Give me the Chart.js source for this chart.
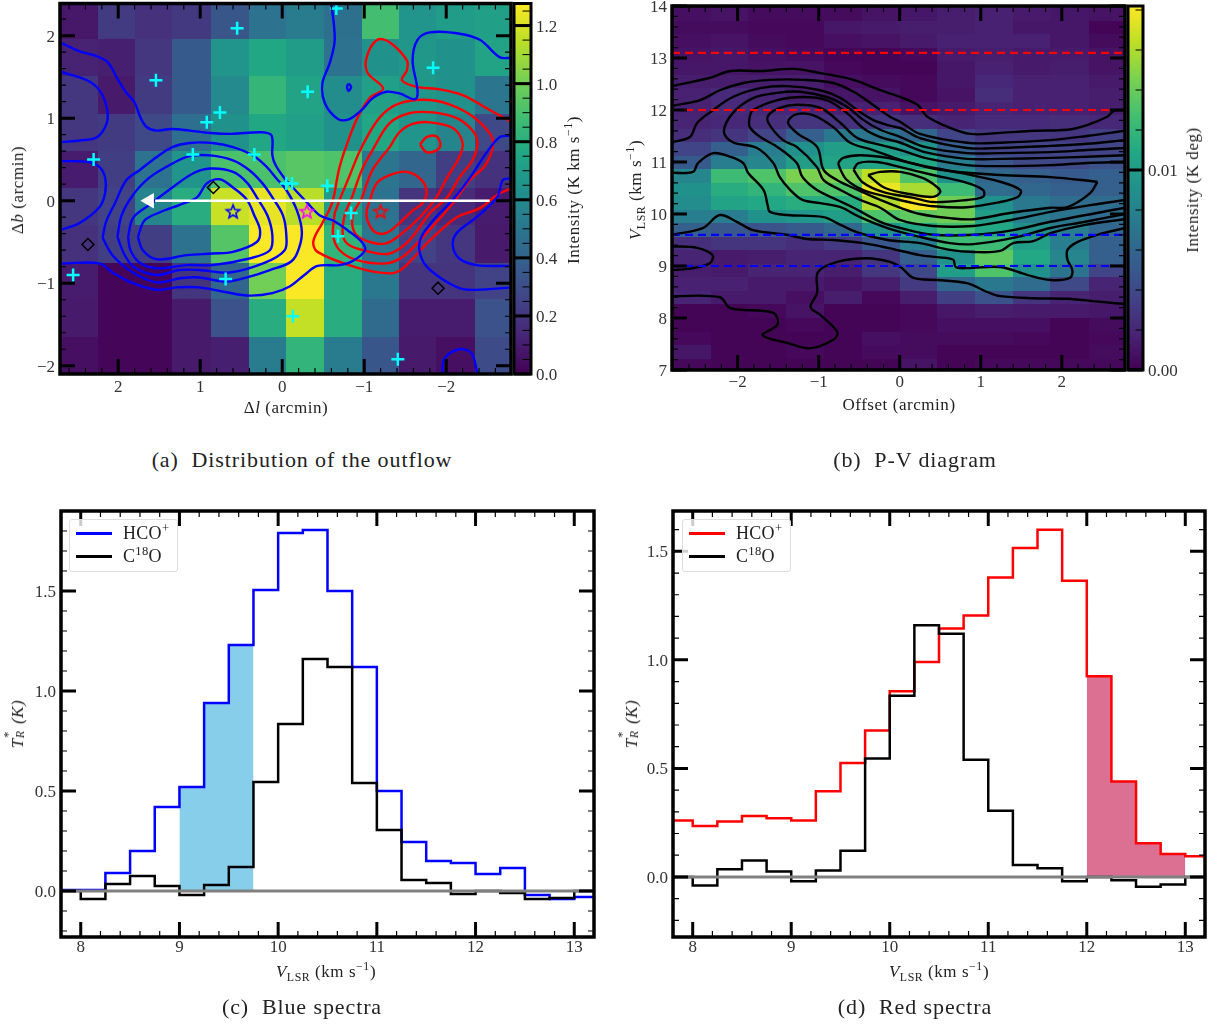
<!DOCTYPE html>
<html>
<head>
<meta charset="utf-8">
<script src="https://cdn.jsdelivr.net/npm/chart.js@4"></script>
<style>
body { margin: 0; background: #fff; width: 1221px; height: 1028px; position: relative; overflow: hidden; font-family: "Liberation Serif", serif; color: #222; }
canvas { position: absolute; }
.lbl { position: absolute; white-space: nowrap; transform: translate(-50%, -50%); font-size: 17px; letter-spacing: .55px; }
.rot { transform: translate(-50%, -50%) rotate(-90deg); }
.cap { font-size: 22px; letter-spacing: .9px; }
.lbl sup, .lbl sub, .legend sup { font-size: 70%; line-height: 0; }
.stack { display: inline-block; position: relative; width: .55em; height: 1em; }
.stack b { position: absolute; left: 0; font-weight: normal; font-size: 70%; line-height: 1; }
.legend { position: absolute; width: 107px; height: 51px; border: 1px solid #ddd; border-radius: 3px; background: rgba(255,255,255,.8); font-size: 18px; letter-spacing: .3px; }
.legend span { position: absolute; left: 6px; width: 36px; height: 2.5px; }
.legend div { position: absolute; left: 53px; line-height: 20px; white-space: nowrap; }
</style>
</head>
<body>
<canvas id="mapChart"></canvas>
<canvas id="mapBar"></canvas>
<canvas id="pvChart"></canvas>
<canvas id="pvBar"></canvas>
<canvas id="blueChart"></canvas>
<canvas id="redChart"></canvas>

<div class="lbl" style="left:286px;top:408px">&Delta;<i>l</i> (arcmin)</div>
<div class="lbl rot" style="left:18px;top:190px">&Delta;<i>b</i> (arcmin)</div>
<div class="lbl rot" style="left:574px;top:190px">Intensity (K km s<sup>&minus;1</sup>)</div>
<div class="lbl" style="left:899px;top:405px">Offset (arcmin)</div>
<div class="lbl rot" style="left:636px;top:190px"><i>V</i><sub>LSR</sub> (km s<sup>&minus;1</sup>)</div>
<div class="lbl rot" style="left:1193px;top:190px">Intensity (K deg)</div>
<div class="lbl" style="left:326px;top:972px"><i>V</i><sub>LSR</sub> (km s<sup>&minus;1</sup>)</div>
<div class="lbl" style="left:939px;top:972px"><i>V</i><sub>LSR</sub> (km s<sup>&minus;1</sup>)</div>
<div class="lbl rot" style="left:17px;top:724px"><i>T<span class="stack"><b style="top:-3px">*</b><b style="top:9px"><i>R</i></b></span> (K)</i></div>
<div class="lbl rot" style="left:631px;top:724px"><i>T<span class="stack"><b style="top:-3px">*</b><b style="top:9px"><i>R</i></b></span> (K)</i></div>

<div class="lbl cap" style="left:302px;top:460px">(a)&nbsp; Distribution of the outflow</div>
<div class="lbl cap" style="left:915px;top:460px">(b)&nbsp; P-V diagram</div>
<div class="lbl cap" style="left:302px;top:1007px">(c)&nbsp; Blue spectra</div>
<div class="lbl cap" style="left:915px;top:1007px">(d)&nbsp; Red spectra</div>

<div class="legend" style="left:69px;top:519px">
  <span style="top:12px;background:#00f"></span><div style="top:3px">HCO<sup>+</sup></div>
  <span style="top:35px;background:#000"></span><div style="top:26px">C<sup>18</sup>O</div>
</div>
<div class="legend" style="left:682px;top:519px">
  <span style="top:12px;background:#f00"></span><div style="top:3px">HCO<sup>+</sup></div>
  <span style="top:35px;background:#000"></span><div style="top:26px">C<sup>18</sup>O</div>
</div>

<script>
// panel (a) moment map, rows from the top, K km/s
const mapLonEdges = [2.71,2.25,1.80,1.34,.87,.41,-.04,-.51,-.97,-1.43,-1.88,-2.35,-2.79];
const mapLatEdges = [2.39,1.96,1.51,1.05,.60,.15,-.30,-.75,-1.19,-1.65,-2.10];
const mapIntensity = [
  [.08,.22,.18,.21,.34,.48,.53,.47,.89,.66,.70,.72],
  [.12,.11,.20,.36,.66,.76,.70,.48,.64,.67,.64,.74],
  [.20,.09,.22,.36,.60,.84,.74,.61,.72,.67,.64,.50],
  [.20,.22,.28,.46,.64,.76,.72,.64,.76,.66,.57,.28],
  [.10,.23,.48,.66,.91,.91,.94,.92,.50,.42,.23,.18],
  [.20,.25,.57,.79,1.17,1.23,1.14,.70,.48,.19,.15,.10],
  [.18,.23,.23,.48,.93,1.27,1.27,.83,.50,.25,.20,.09],
  [.10,.02,.02,.19,.42,1.00,1.27,.79,.51,.19,.19,.25],
  [.09,.02,.02,.09,.32,.79,1.16,.79,.44,.10,.10,.32],
  [.05,.02,.02,.09,.11,.53,.83,.53,.34,.09,.05,.29]
];
const mapPeak = 1.276;

const blueLevel1 = [[2.69,1.91],[2.47,1.81],[2.29,1.76],[2.13,1.68],[2.01,1.48],[1.91,1.32],[1.80,1.19],[1.73,1.01],[1.65,.89],[1.53,.85],[1.35,.87],[1.13,.85],[.87,.82],[.62,.81],[.25,.83],[.13,.79],[.12,.55],[.08,.43],[-.03,.27],[-.13,.16],[-.31,-.03],[-.46,-.18],[-.62,-.24],[-.80,-.36],[-.97,-.50],[-1.01,-.60],[-.86,-.73],[-.70,-.78],[-.43,-.79],[-.27,-.90],[-.09,-1.04],[.12,-1.12],[.40,-1.15],[.68,-1.11],[1.01,-1.05],[1.29,-1.05],[1.53,-1.08],[1.82,-1.00],[2.07,-.87],[2.23,-.76],[2.69,-.76]];
const blueLevel2 = [[2.19,-.45],[2.15,-.26],[2.04,-.03],[1.90,.25],[1.74,.37],[1.53,.53],[1.34,.65],[1.13,.70],[.85,.70],[.60,.65],[.36,.55],[.19,.41],[.07,.27],[-.05,.13],[-.18,-.12],[-.24,-.39],[-.18,-.64],[-.09,-.75],[.15,-.84],[.40,-.92],[.68,-.98],[1.01,-.93],[1.25,-.94],[1.53,-.99],[1.82,-.87],[2.07,-.66],[2.19,-.45]];
const blueLevel3 = [[2.01,-.44],[1.96,-.18],[1.82,.07],[1.62,.28],[1.34,.45],[1.13,.54],[.88,.55],[.60,.49],[.40,.37],[.24,.21],[.12,.04],[-.01,-.18],[-.05,-.42],[-.03,-.60],[.21,-.75],[.64,-.87],[1.01,-.84],[1.25,-.84],[1.53,-.90],[1.80,-.81],[1.92,-.66],[2.01,-.44]];
const blueLevel4 = [[1.88,-.44],[1.82,-.21],[1.62,-.05],[1.34,.16],[1.09,.33],[.88,.39],[.60,.35],[.43,.22],[.31,.04],[.18,-.18],[.12,-.42],[.15,-.60],[.40,-.70],[.85,-.78],[1.16,-.78],[1.53,-.82],[1.74,-.75],[1.85,-.60],[1.88,-.44]];
const blueLevel5 = [[1.76,-.44],[1.68,-.24],[1.49,-.14],[1.25,-.05],[1.04,.04],[.92,.21],[.76,.26],[.60,.16],[.43,.01],[.34,-.18],[.27,-.36],[.31,-.50],[.60,-.62],[.85,-.64],[1.16,-.66],[1.53,-.71],[1.70,-.60],[1.76,-.44]];
const blueLeftUpper = [[2.69,1.56],[2.38,1.46],[2.23,1.34],[2.14,1.13],[2.14,.94],[2.26,.77],[2.47,.73],[2.69,.71]];
const blueLeftLower = [[2.69,.48],[2.38,.47],[2.23,.41],[2.16,.28],[2.16,.09],[2.23,-.08],[2.47,-.27],[2.69,-.35]];
const blueTop = [[-.60,2.39],[-.64,1.95],[-.58,1.67],[-.49,1.42],[-.52,1.18],[-.68,.99],[-.82,.99],[-.97,1.10],[-1.10,1.24],[-1.27,1.32],[-1.43,1.30],[-1.62,1.23],[-1.65,1.34],[-1.59,1.70],[-1.65,1.95],[-1.80,2.04],[-2.13,2.03],[-2.41,1.95],[-2.65,1.74],[-2.79,1.73]];
const blueDot = [[-.81,1.42],[-.84,1.38],[-.81,1.33],[-.79,1.38],[-.81,1.42]];
const blueRightOuter = [[-2.79,.79],[-2.65,.77],[-2.49,.58],[-2.29,.28],[-2.08,.01],[-1.84,-.24],[-1.68,-.48],[-1.70,-.70],[-1.84,-.87],[-2.16,-1.06],[-2.37,-1.08],[-2.79,-1.05]];
const blueRightInner = [[-2.79,.27],[-2.69,.25],[-2.62,.04],[-2.37,-.20],[-2.13,-.39],[-2.08,-.54],[-2.16,-.70],[-2.37,-.78],[-2.79,-.79]];
const blueBottom = [[-1.95,-2.10],[-1.98,-1.91],[-2.16,-1.80],[-2.31,-1.85],[-2.38,-2.10]];

const redLevel1 = [[-2.79,.96],[-2.53,1.10],[-2.20,1.28],[-1.92,1.35],[-1.64,1.38],[-1.46,1.46],[-1.52,1.58],[-1.52,1.70],[-1.31,1.92],[-1.16,1.95],[-1.03,1.74],[-1.04,1.55],[-1.23,1.36],[-1.07,1.25],[-.92,1.01],[-.82,.77],[-.70,.41],[-.62,.01],[-.57,-.12],[-.49,-.27],[-.38,-.49],[-.43,-.62],[-.91,-.81],[-1.31,-.88],[-1.47,-.82],[-1.80,-.48],[-2.13,-.20],[-2.41,-.09],[-2.62,.07],[-2.79,.15]];
const redLevel2 = [[-.64,-.15],[-.62,-.42],[-.70,-.60],[-.91,-.72],[-1.27,-.76],[-1.47,-.68],[-1.68,-.48],[-1.88,-.26],[-2.08,-.03],[-2.29,.25],[-2.49,.45],[-2.57,.73],[-2.41,.95],[-2.13,1.13],[-1.80,1.22],[-1.43,1.18],[-1.19,1.01],[-.97,.65],[-.80,.25],[-.70,.01],[-.64,-.15]];
const redLevel3 = [[-.85,.04],[-.97,.37],[-1.10,.61],[-1.31,.94],[-1.55,1.06],[-1.84,1.07],[-2.13,1.00],[-2.32,.85],[-2.38,.70],[-2.32,.49],[-2.16,.28],[-2.01,.04],[-1.80,-.15],[-1.55,-.48],[-1.31,-.64],[-1.07,-.62],[-.82,-.54],[-.74,-.42],[-.76,-.18],[-.85,.04]];
const redLevel4 = [[-.97,.03],[-1.10,.37],[-1.31,.65],[-1.43,.83],[-1.59,.93],[-1.80,.95],[-2.08,.88],[-2.20,.70],[-2.16,.53],[-2.01,.28],[-1.88,.04],[-1.68,-.20],[-1.43,-.42],[-1.25,-.52],[-1.01,-.48],[-.88,-.38],[-.86,-.18],[-.97,.03]];
const redLevel5 = [[-1.07,.01],[-1.15,.21],[-1.31,.31],[-1.52,.35],[-1.70,.25],[-1.76,.10],[-1.71,-.03],[-1.59,-.12],[-1.43,-.27],[-1.27,-.39],[-1.13,-.38],[-1.04,-.24],[-1.03,-.12],[-1.07,.01]];
const redLevel6 = [[-1.68,.68],[-1.76,.77],[-1.88,.78],[-1.93,.68],[-1.88,.61],[-1.76,.59],[-1.68,.68]];

const cyanSources = [[.55,2.09],[-.66,2.33],[1.54,1.46],[.76,1.07],[.92,.95],[-.31,1.32],[-1.84,1.61],[2.30,.50],[1.09,.56],[.34,.56],[-.05,.21],[-.12,.21],[-.55,.18],[-.84,-.15],[-.68,-.43],[2.55,-.90],[.69,-.95],[-.13,-1.40],[-1.41,-1.92]];
const diamondSources = [[.84,.16],[2.37,-.53],[-1.90,-1.06]];
const blueStar = [[.60,-.13]];
const magentaStar = [[-.30,-.13]];
const redStar = [[-1.20,-.13]];
const arrowShaft = [[-2.53,0],[1.55,0]];
const arrowTip = [[1.62,0]];

// panel (b) position-velocity, rows from the top, fraction of the peak
const pvOffsetEdges = [-2.81,-2.33,-1.87,-1.40,-.93,-.47,0,.46,.93,1.40,1.86,2.33,2.78];
const pvVelocityEdges = [14,13.72,13.46,13.20,12.94,12.68,12.42,12.16,11.90,11.64,11.38,11.12,10.86,10.60,10.34,10.08,9.82,9.56,9.30,9.04,8.78,8.52,8.26,8.00,7.74,7.48,7.22,7];
const pvPeak = 0.0182;
const pvFraction = [
  [.04,.05,.03,.03,.03,.05,.06,.08,.09,.07,.06,.05],
  [.03,.03,.02,.02,.06,.07,.08,.08,.09,.06,.06,.01],
  [.04,.05,.03,.02,.04,.05,.07,.09,.09,.09,.06,.03],
  [.05,.06,.04,.03,.01,.01,.02,.07,.08,.07,.07,.05],
  [.06,.06,.05,.05,.02,.01,.01,.06,.09,.07,.08,.05],
  [.08,.08,.08,.08,.04,.03,.02,.06,.11,.09,.09,.07],
  [.09,.12,.10,.08,.06,.05,.02,.05,.13,.09,.09,.08],
  [.09,.12,.11,.11,.09,.09,.05,.07,.10,.09,.09,.08],
  [.10,.11,.13,.15,.14,.16,.13,.10,.12,.12,.13,.11],
  [.13,.15,.20,.30,.40,.38,.33,.20,.16,.16,.15,.18],
  [.20,.30,.42,.50,.55,.55,.50,.30,.20,.20,.20,.20],
  [.28,.42,.45,.55,.58,.58,.60,.42,.27,.22,.22,.25],
  [.45,.68,.72,.80,.80,.90,.72,.50,.33,.30,.28,.30],
  [.50,.62,.65,.72,.72,.97,.87,.68,.35,.33,.30,.30],
  [.48,.58,.60,.62,.62,.88,1.0,.78,.50,.40,.35,.35],
  [.42,.42,.50,.52,.55,.72,.75,.78,.55,.42,.38,.35],
  [.30,.27,.25,.28,.33,.50,.60,.70,.60,.50,.42,.33],
  [.13,.15,.15,.13,.17,.27,.42,.68,.68,.55,.42,.30],
  [.10,.07,.08,.10,.10,.15,.30,.50,.75,.60,.45,.30],
  [.08,.07,.10,.10,.08,.16,.22,.55,.72,.50,.38,.20],
  [.09,.09,.07,.07,.05,.08,.17,.33,.40,.35,.22,.10],
  [.10,.07,.07,.04,.08,.02,.08,.18,.25,.15,.10,.08],
  [.01,.01,.02,.05,.01,.01,.02,.06,.08,.07,.07,.06],
  [.01,.01,.01,.02,.01,.01,.02,.04,.04,.04,.01,.03],
  [.02,.01,.01,.01,.01,.04,.03,.03,.03,.02,.01,.02],
  [.06,.01,.01,.02,.01,.03,.03,.01,.01,.01,.01,.03],
  [.02,.01,.01,.01,.01,.01,.05,.01,.02,.02,.02,.02]
];

const pvContour1 = [[-2.81,12.46],[-2.34,12.62],[-2.09,12.75],[-1.72,12.75],[-1.31,12.79],[-.98,12.71],[-.57,12.58],[-.24,12.38],[.01,12.25],[.22,12.10],[.29,11.96],[.34,11.87],[.54,11.71],[.87,11.54],[1.24,11.56],[1.65,11.60],[2.07,11.62],[2.31,11.71],[2.56,11.87],[2.64,11.98],[2.78,12.00]];
const pvContour2 = [[-2.81,12.08],[-2.46,12.19],[-2.22,12.38],[-1.93,12.52],[-1.60,12.58],[-1.19,12.58],[-.82,12.52],[-.57,12.35],[-.33,12.10],[-.12,11.87],[.01,11.77],[.25,11.54],[.83,11.37],[1.24,11.37],[1.86,11.42],[2.31,11.50],[2.78,11.60]];
const pvContour3 = [[-2.81,11.38],[-2.59,11.48],[-2.50,11.75],[-2.30,12.0],[-2.06,12.25],[-1.72,12.42],[-1.39,12.46],[-.98,12.38],[-.73,12.23],[-.49,11.96],[-.33,11.81],[-.15,11.71],[.01,11.65],[.25,11.46],[.83,11.27],[1.24,11.27],[1.86,11.31],[2.31,11.35],[2.78,11.42]];
const pvContour4 = [[2.78,11.27],[2.31,11.23],[1.86,11.19],[1.24,11.17],[.83,11.17],[.31,11.29],[.01,11.48],[-.24,11.62],[-.45,11.81],[-.65,12.06],[-.90,12.25],[-1.23,12.35],[-1.51,12.33],[-1.81,12.23],[-2.06,11.94],[-2.17,11.58],[-2.06,11.38],[-1.76,11.27],[-1.56,10.98],[-1.48,10.71],[-1.35,10.46],[-1.20,10.27],[-.98,10.21],[-.73,10.13],[-.49,9.94],[-.15,9.73],[.25,9.56],[.62,9.44],[.91,9.42],[1.40,9.54],[1.86,9.73],[2.29,9.85],[2.78,10.0]];
const pvContour5 = [[2.78,11.13],[2.31,11.10],[1.86,11.08],[1.24,11.06],[.83,11.06],[.31,11.19],[.01,11.37],[-.24,11.48],[-.45,11.65],[-.65,11.94],[-.90,12.19],[-1.19,12.25],[-1.51,12.19],[-1.81,12.0],[-1.85,11.87],[-1.85,11.67],[-1.72,11.48],[-1.51,11.29],[-1.27,10.98],[-1.20,10.71],[-1.02,10.46],[-.77,10.27],[-.57,10.12],[-.24,9.85],[.01,9.73],[.41,9.60],[.91,9.60],[1.40,9.69],[1.86,9.85],[2.78,10.12]];
const pvContour6 = [[2.78,11.0],[2.31,10.98],[1.86,10.94],[1.24,10.92],[.83,10.94],[.31,11.08],[.01,11.23],[-.24,11.33],[-.52,11.46],[-.73,11.75],[-.98,12.04],[-1.27,12.10],[-1.48,12.04],[-1.62,11.90],[-1.62,11.75],[-1.44,11.42],[-1.27,11.29],[-1.02,10.90],[-.94,10.65],[-.73,10.46],[-.49,10.27],[-.24,10.12],[.01,9.88],[.41,9.77],[.91,9.77],[1.36,9.88],[1.86,10.04],[2.35,10.17],[2.78,10.27]];
const pvContour7 = [[2.44,10.62],[1.86,10.71],[1.24,10.75],[.50,10.85],[.01,11.04],[-.33,11.23],[-.61,11.37],[-.82,11.67],[-1.07,11.90],[-1.27,11.92],[-1.38,11.77],[-1.27,11.56],[-1.02,11.29],[-.94,10.85],[-.77,10.65],[-.57,10.5],[-.24,10.27],[.01,10.12],[.25,10.0],[.62,9.92],[.91,9.90],[1.36,10.02],[1.86,10.12],[2.07,10.13],[2.35,10.40],[2.44,10.62]];
const pvContour8 = [[-.76,10.98],[-.70,11.08],[-.49,11.13],[-.15,11.08],[.25,10.94],[.75,10.79],[1.24,10.62],[1.49,10.46],[1.46,10.33],[1.24,10.23],[.83,10.13],[.41,10.15],[.17,10.21],[-.15,10.33],[-.45,10.46],[-.65,10.65],[-.73,10.85],[-.76,10.98]];
const pvContour9 = [[-.57,10.85],[-.51,10.98],[-.28,11.0],[.01,10.90],[.41,10.75],[.83,10.60],[1.03,10.46],[1.03,10.33],[.83,10.27],[.41,10.23],[.17,10.31],[-.20,10.42],[-.45,10.60],[-.57,10.85]];
const pvContour10 = [[-.39,10.75],[-.24,10.81],[.01,10.81],[.29,10.69],[.46,10.52],[.50,10.42],[.41,10.33],[.17,10.37],[-.18,10.5],[-.39,10.75]];
const pvContourLeft = [[-2.81,10.79],[-2.55,10.81],[-2.49,10.98],[-2.30,11.17],[-2.09,11.10],[-1.93,10.98],[-1.87,10.79],[-1.68,10.46],[-1.63,10.17],[-1.60,10.04],[-1.39,9.98],[-.94,9.94],[-.73,9.79],[-.49,9.63],[-.15,9.50],[.25,9.44],[.62,9.31],[.91,9.27],[1.24,9.29],[1.40,9.44],[1.65,9.48],[1.86,9.63],[2.29,9.79],[2.78,9.90]];
const pvContourLower = [[-2.81,9.60],[-2.43,9.73],[-2.22,9.98],[-2.01,9.85],[-1.81,9.69],[-1.39,9.60],[-1.14,9.52],[-.82,9.50],[-.45,9.44],[-.15,9.35],[.25,9.21],[.46,9.17],[.66,9.12],[.69,8.98],[.83,8.96],[1.24,8.98],[1.57,8.83],[1.86,8.73],[2.10,8.77],[2.13,8.92],[2.07,9.12],[2.07,9.31],[2.19,9.46],[2.44,9.60],[2.78,9.73]];
const pvContourBlob = [[-2.81,9.38],[-2.50,9.35],[-2.31,9.21],[-2.34,9.06],[-2.55,8.96],[-2.81,8.92]];
const pvContourBottom = [[-2.81,8.42],[-2.22,8.40],[-2.09,8.19],[-1.56,8.10],[-1.51,7.87],[-1.69,7.67],[-1.39,7.52],[-1.10,7.42],[-.82,7.58],[-.77,7.73],[-.98,8.06],[-1.10,8.21],[-1.02,8.48],[-1.01,8.88],[-.77,9.08],[-.40,9.15],[-.12,9.08],[.01,8.98],[.17,8.77],[.46,8.73],[.83,8.67],[1.08,8.50],[1.24,8.42],[1.65,8.38],[2.07,8.37],[2.48,8.31],[2.78,8.27]];
const pvRedLevels = [13.1, 12.0];
const pvBlueLevels = [9.6, 9.0];

// panels (c) and (d): left edge of each channel, km/s, and T in K
const channelEdges = [7.75,8,8.25,8.5,8.75,9,9.25,9.5,9.75,10,10.25,10.5,10.75,11,11.25,11.5,11.75,12,12.25,12.5,12.75,13,13.25];
const blueHco = [.005,.005,.09,.20,.42,.52,.94,1.23,1.505,1.79,1.805,1.50,1.12,.50,.245,.15,.14,.085,.115,-.02,-.04,-.03];
const blueC18o = [0,-.04,.035,.075,.025,-.02,.03,.12,.545,.835,1.16,1.12,.54,.305,.055,.04,-.015,0,-.01,-.04,-.035,0];
const redHco = [.26,.235,.255,.28,.27,.26,.395,.525,.675,.855,.99,1.145,1.205,1.38,1.515,1.60,1.365,.925,.44,.155,.105,.095];
const redC18o = [0,-.04,.035,.075,.025,-.02,.03,.12,.545,.835,1.16,1.12,.54,.305,.055,.04,-.02,0,-.015,-.045,-.035,0];

const viridisStops = ['#440154','#482475','#414487','#355f8d','#2a788e','#21918c','#22a884','#44bf70','#7ad151','#bddf26','#fde725'];

function hexRgb(h) {
  return [1,3,5].map(i => parseInt(h.substr(i,2),16));
}
function viridis(t) {
  t = Math.min(1, Math.max(0, t)) * (viridisStops.length - 1);
  const i = Math.min(Math.floor(t), viridisStops.length - 2);
  const a = hexRgb(viridisStops[i]), b = hexRgb(viridisStops[i+1]), f = t - i;
  return 'rgb(' + a.map((v,k) => Math.round(v + (b[k]-v)*f)).join(',') + ')';
}
function pts(pairs) {
  return pairs.map(p => ({x: p[0], y: p[1]}));
}
function niceNum(v, digits) {
  const s = Math.abs(v).toFixed(digits);
  return (v < -1e-9 ? '\u2212' : '') + s;
}
function isMajor(v, step) {
  return Math.abs(v/step - Math.round(v/step)) < 1e-6;
}

// cells go through the chart's scales
function heatPlugin(xEdges, yEdges, values, vmax) {
  return {
    id: 'heat',
    beforeDatasetsDraw(chart) {
      const ctx = chart.ctx, xs = chart.scales.x, ys = chart.scales.y;
      ctx.save();
      values.forEach((row, r) => row.forEach((v, c) => {
        const x0 = Math.round(xs.getPixelForValue(xEdges[c])), x1 = Math.round(xs.getPixelForValue(xEdges[c+1]));
        const y0 = Math.round(ys.getPixelForValue(yEdges[r])), y1 = Math.round(ys.getPixelForValue(yEdges[r+1]));
        ctx.fillStyle = viridis(v / vmax);
        ctx.fillRect(x0, y0, x1-x0, y1-y0);
      }));
      ctx.restore();
    }
  };
}

// matplotlib style box: thick spines and inward ticks on all sides
function framePlugin(xMajor, yMajor) {
  return {
    id: 'frame',
    afterDatasetsDraw(chart) {
      const ctx = chart.ctx, a = chart.chartArea;
      ctx.save();
      ctx.strokeStyle = '#000';
      chart.scales.x.ticks.forEach(t => {
        const px = chart.scales.x.getPixelForValue(t.value), major = isMajor(t.value, xMajor);
        const len = major ? 15 : 6;
        ctx.lineWidth = major ? 3 : 1.2;
        ctx.beginPath();
        ctx.moveTo(px, a.top); ctx.lineTo(px, a.top + len);
        ctx.moveTo(px, a.bottom); ctx.lineTo(px, a.bottom - len);
        ctx.stroke();
      });
      chart.scales.y.ticks.forEach(t => {
        const py = chart.scales.y.getPixelForValue(t.value), major = isMajor(t.value, yMajor);
        const len = major ? 15 : 6;
        ctx.lineWidth = major ? 3 : 1.2;
        ctx.beginPath();
        ctx.moveTo(a.left, py); ctx.lineTo(a.left + len, py);
        ctx.moveTo(a.right, py); ctx.lineTo(a.right - len, py);
        ctx.stroke();
      });
      ctx.lineWidth = 3.5;
      ctx.strokeRect(a.left, a.top, a.right - a.left, a.bottom - a.top);
      ctx.restore();
    }
  };
}

function colorbarPlugin(yMajor) {
  return {
    id: 'colorbar',
    beforeDatasetsDraw(chart) {
      const ctx = chart.ctx, a = chart.chartArea, ys = chart.scales.y;
      const g = ctx.createLinearGradient(0, ys.getPixelForValue(ys.min), 0, ys.getPixelForValue(ys.max));
      viridisStops.forEach((c, i) => g.addColorStop(i / (viridisStops.length - 1), c));
      ctx.save();
      ctx.fillStyle = g;
      ctx.fillRect(a.left, a.top, a.right - a.left, a.bottom - a.top);
      ctx.strokeStyle = '#000';
      ys.ticks.forEach(t => {
        const py = ys.getPixelForValue(t.value), major = isMajor(t.value, yMajor);
        ctx.lineWidth = major ? 3 : 1;
        ctx.beginPath();
        ctx.moveTo(major ? a.left : a.left + (a.right - a.left)/2, py);
        ctx.lineTo(a.right, py);
        ctx.stroke();
      });
      ctx.lineWidth = 3;
      ctx.strokeRect(a.left, a.top, a.right - a.left, a.bottom - a.top);
      ctx.restore();
    }
  };
}

const tickFont = {family: 'Liberation Serif', size: 17};

function fixedAxis(axis, size) {
  return function(s) {
    if (axis == 'x') s.height = size; else s.width = size;
    s.paddingTop = s.paddingBottom = s.paddingLeft = s.paddingRight = 0;
  };
}

function linearAxis(axis, lim, minor, major, digits, size, pad, extra) {
  return Object.assign({
    type: 'linear',
    min: lim[0],
    max: lim[1],
    grid: {display: false, drawTicks: false},
    border: {display: false},
    afterFit: fixedAxis(axis, size),
    ticks: {
      stepSize: minor,
      includeBounds: false,
      autoSkip: false,
      maxRotation: 0,
      padding: pad,
      labelOffset: axis == 'y' ? 1.5 : 0,
      color: '#333',
      font: tickFont,
      callback: v => isMajor(v, major) ? niceNum(v, digits) : ''
    }
  }, extra || {});
}

// canvas box is worked out from where the axes frame has to land
function makeChart(id, frame, datasets, xAxis, yAxis, plugins) {
  const canvas = document.getElementById(id);
  const left = frame.left - 60, top = Math.max(0, frame.top - 12);
  canvas.style.left = left + 'px';
  canvas.style.top = top + 'px';
  canvas.width = frame.right - left + 14;
  canvas.height = Math.ceil(frame.bottom - top) + 30;
  return new Chart(canvas.getContext('2d'), {
    type: 'scatter',
    data: {datasets: datasets},
    options: {
      responsive: false,
      animation: false,
      devicePixelRatio: 1,
      layout: {autoPadding: false, padding: {top: frame.top - top, right: 14, left: 0, bottom: 0}},
      plugins: {legend: {display: false}, tooltip: {enabled: false}},
      scales: {x: xAxis, y: yAxis}
    },
    plugins: plugins
  });
}

function makeColorbar(id, frame, yLim, minor, major, digits) {
  const canvas = document.getElementById(id);
  const left = frame.left - 4, top = Math.max(0, frame.top - 12);
  canvas.style.left = left + 'px';
  canvas.style.top = top + 'px';
  canvas.width = frame.right - left + 44;
  canvas.height = Math.ceil(frame.bottom - top) + 14;
  return new Chart(canvas.getContext('2d'), {
    type: 'scatter',
    data: {datasets: []},
    options: {
      responsive: false,
      animation: false,
      devicePixelRatio: 1,
      layout: {autoPadding: false, padding: {top: frame.top - top, left: 4, right: 0, bottom: 14}},
      plugins: {legend: {display: false}, tooltip: {enabled: false}},
      scales: {
        x: {type: 'linear', display: false, min: 0, max: 1},
        y: linearAxis('y', yLim, minor, major, digits, 44, 5, {position: 'right'})
      }
    },
    plugins: [colorbarPlugin(major)]
  });
}

function contour(pairs, color, smooth) {
  return {data: pts(pairs), showLine: true, borderColor: color, borderWidth: 2.4, pointRadius: 0, tension: smooth === undefined ? .35 : smooth, order: 5};
}

function starCanvas(color) {
  const c = document.createElement('canvas');
  c.width = c.height = 18;
  const g = c.getContext('2d');
  g.strokeStyle = color;
  g.lineWidth = 1.6;
  g.beginPath();
  for (let i = 0; i < 10; i++) {
    const r = i % 2 ? 3 : 7, ang = -Math.PI/2 + i*Math.PI/5;
    g.lineTo(9 + r*Math.cos(ang), 9.5 + r*Math.sin(ang));
  }
  g.closePath();
  g.stroke();
  return c;
}

function marker(pairs, style, color, radius, width, rotation) {
  return {data: pts(pairs), showLine: false, pointStyle: style, pointRadius: radius, pointBorderColor: color, pointBackgroundColor: 'rgba(0,0,0,0)', pointBorderWidth: width, pointRotation: rotation || 0, order: 1};
}

// panel a
const mapFrame = {left: 60, top: 3.5, right: 511, bottom: 373.5};
const mapContours = [blueLevel1,blueLevel2,blueLevel3,blueLevel4,blueLevel5,blueLeftUpper,blueLeftLower,blueTop,blueDot,blueRightOuter,blueRightInner,blueBottom].map(p => contour(p, '#00f'))
  .concat([redLevel1,redLevel2,redLevel3,redLevel4,redLevel5,redLevel6].map(p => contour(p, '#f00')));
const tipMark = marker(arrowTip, 'triangle', '#fff', 9, 0, -90);
tipMark.pointBackgroundColor = '#fff';
makeChart('mapChart', mapFrame, mapContours.concat([
  {data: pts(arrowShaft), showLine: true, borderColor: '#fff', borderWidth: 2.5, pointRadius: 0, order: 2},
  tipMark,
  marker(cyanSources, 'cross', '#0ff', 6.5, 2.5),
  marker(diamondSources, 'rectRot', '#000', 6, 1.5),
  marker(blueStar, starCanvas('#00f'), '#00f', 8, 1),
  marker(magentaStar, starCanvas('#f0f'), '#f0f', 8, 1),
  marker(redStar, starCanvas('#f00'), '#f00', 8, 1)
]),
  linearAxis('x', [-2.79, 2.71], .2, 1, 0, 30, 3, {reverse: true}),
  linearAxis('y', [-2.10, 2.39], .2, 1, 0, 60, 5),
  [heatPlugin(mapLonEdges, mapLatEdges, mapIntensity, mapPeak), framePlugin(1, 1)]);
makeColorbar('mapBar', {left: 514, top: 3.5, right: 531, bottom: 373.5}, [0, mapPeak], .05, .2, 1);

// panel b
const pvFrame = {left: 672, top: 6, right: 1125, bottom: 370};
const pvLimits = [-2.81, 2.78];
function dashedLevel(v, color) {
  return {data: [{x: pvLimits[0], y: v}, {x: pvLimits[1], y: v}], showLine: true, borderColor: color, borderWidth: 2.2, borderDash: [8, 5], pointRadius: 0, order: 1};
}
makeChart('pvChart', pvFrame,
  [pvContour1,pvContour2,pvContour3,pvContour4,pvContour5,pvContour6,pvContour7,pvContour8,pvContour9,pvContour10,pvContourLeft,pvContourLower,pvContourBlob,pvContourBottom].map(p => contour(p, '#000'))
    .concat(pvRedLevels.map(v => dashedLevel(v, '#f00')), pvBlueLevels.map(v => dashedLevel(v, '#00f'))),
  linearAxis('x', pvLimits, .2, 1, 0, 30, 2),
  linearAxis('y', [7, 14], .2, 1, 0, 60, 5),
  [heatPlugin(pvOffsetEdges, pvVelocityEdges, pvFraction, 1), framePlugin(1, 1)]);
makeColorbar('pvBar', {left: 1127.5, top: 6, right: 1143, bottom: 370}, [0, pvPeak], .002, .01, 2);

// panels c and d
function stepPts(values) {
  return channelEdges.map((x, i) => ({x: x, y: i < values.length ? values[i] : values[values.length-1]}));
}
function windowPts(values, from, to) {
  return stepPts(values).filter(p => p.x >= from && p.x <= to).map((p, i, all) =>
    i == all.length - 1 ? {x: p.x, y: all[i-1].y} : p);
}
function spectrum(id, frame, hco, c18o, color, fillColor, from, to, yLim) {
  makeChart(id, frame, [
    {data: windowPts(hco, from, to), showLine: true, stepped: true, fill: 'origin', backgroundColor: fillColor, borderWidth: 0, borderColor: fillColor, pointRadius: 0, order: 9},
    {data: stepPts(hco), showLine: true, stepped: true, borderColor: color, borderWidth: 2.5, pointRadius: 0, order: 5},
    {data: stepPts(c18o), showLine: true, stepped: true, borderColor: '#000', borderWidth: 2.5, pointRadius: 0, order: 4},
    {data: [{x: 7.8, y: 0}, {x: 13.2, y: 0}], showLine: true, borderColor: '#808080', borderWidth: 3, pointRadius: 0, order: 1}
  ],
    linearAxis('x', [7.8, 13.2], .2, 1, 0, 30, 0),
    linearAxis('y', yLim, .1, .5, 1, 60, 5),
    [framePlugin(1, .5)]);
}
spectrum('blueChart', {left: 60.5, top: 511, right: 594, bottom: 937}, blueHco, blueC18o, '#00f', '#87ceeb', 9, 9.75, [-.23, 1.9]);
spectrum('redChart', {left: 673, top: 511, right: 1205, bottom: 937}, redHco, redC18o, '#f00', '#db7093', 12, 13, [-.277, 1.686]);
</script>
</body>
</html>
